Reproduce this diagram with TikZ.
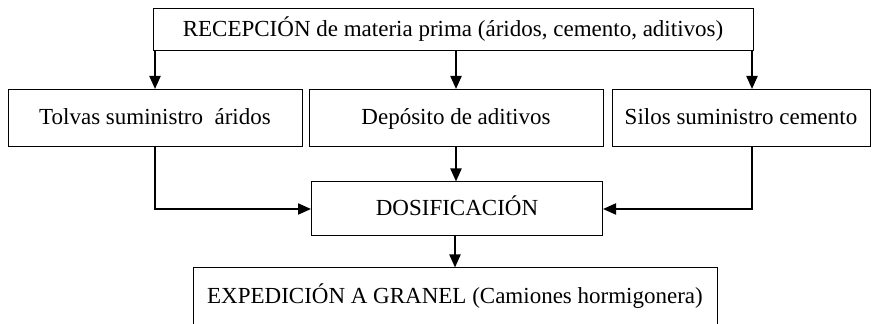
\documentclass[tikz,border=0pt]{standalone}
\usepackage{fontspec}
\setmainfont{Liberation Serif}
\usetikzlibrary{arrows.meta}
\tikzset{
  etapa/.style={draw, rectangle, line width=0.5pt, minimum height=28.5pt, inner sep=2pt, text height=8pt, text depth=1pt, font=\fontsize{11.5}{13}\selectfont},
  flujo/.style={-{Triangle[width=5.5pt,length=6.5pt]}, line width=1pt}
}
\begin{document}
\begin{tikzpicture}[x=0.5pt,y=-0.5pt]
  \useasboundingbox (0,0) rectangle (877,324);
  \clip (0,0) rectangle (877,324);
  \node at (453,30) [etapa, minimum width=300pt, minimum height=21pt] (R) {RECEPCIÓN de materia prima (áridos, cemento, aditivos)};
  \node at (155,118) [etapa, minimum width=147pt] (T) {Tolvas suministro\ \ áridos};
  \node at (456,118) [etapa, minimum width=147pt] (A) {Depósito de aditivos};
  \node at (741,118) [etapa, minimum width=129pt] (S) {Silos suministro cemento};
  \node at (457,209) [etapa, minimum width=145.5pt, minimum height=27pt] (D) {DOSIFICACIÓN};
  \node at (455,297) [etapa, minimum width=262pt, minimum height=29pt] (E) {EXPEDICIÓN A GRANEL (Camiones hormigonera)};
  \coordinate (RT) at (R.south west -| T.north);
  \coordinate (RS) at (752,50);
  \draw[flujo] (RT) -- (T.north);
  \draw[flujo] (R.south -| A.north) -- (A.north);
  \draw[flujo] (RS) -- (RS |- S.north);
  \draw[flujo] (T.south) |- (D.west);
  \draw[flujo] (A.south) -- (D.north -| A.south);
  \draw[flujo] (RS |- S.south) |- (D.east);
  \draw[flujo] (D.south -| E.north) -- (E.north);
\end{tikzpicture}
\end{document}
